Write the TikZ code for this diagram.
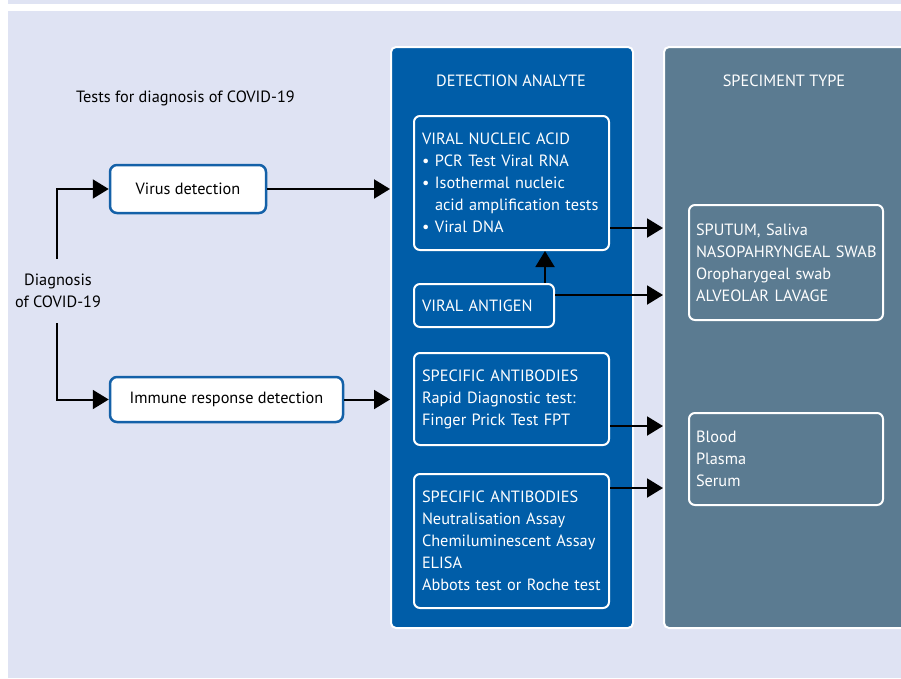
\documentclass[tikz,border=0pt]{standalone}
\usepackage{fontspec}
\setmainfont{PT Sans}
\usetikzlibrary{arrows.meta,calc}
\definecolor{bglav}{HTML}{DFE3F3}
\definecolor{anablue}{HTML}{005DA8}
\definecolor{specgrey}{HTML}{5B7B91}
\definecolor{edgeblue}{HTML}{1461A8}
\newcommand{\bul}{\makebox[13pt][l]{\textbullet}}
\newcommand{\oneline}[1]{\mbox{#1}}
\begin{document}
\begin{tikzpicture}[x=1pt,y=-1pt,
  every node/.style={font=\fontsize{16.3}{22}\selectfont},
  panel/.style={draw=white, line width=2pt, rounded corners=5pt, anchor=north west, inner sep=0pt},
  paneltitle/.style={text=white},
  inbox/.style={draw=white, line width=2pt, rounded corners=6pt, fill=anablue, text=white,
    align=left, anchor=north west, inner xsep=8pt, inner ysep=0pt},
  specbox/.style={inbox, fill=specgrey, inner xsep=7pt},
  stepbox/.style={draw=edgeblue, line width=2.5pt, fill=white, rounded corners=7pt, text=black},
  arr/.style={-{Triangle[length=16pt,width=19pt]}, line width=2pt, black}
]
\useasboundingbox (0,0) rectangle (901,678);
\clip (0,0) rectangle (901,678);
% background
\fill[white] (0,0) rectangle (901,678);
\fill[bglav] (8,0) rectangle (901,4);
\fill[bglav] (8,11) rectangle (901,678);

% panels
\node[panel, fill=anablue, minimum width=242, minimum height=581] (ana) at (390,46) {};
\node[panel, fill=specgrey, minimum width=262, minimum height=581] (spec) at (663,46) {};
\node[paneltitle] (anatitle) at (511,81) {DETECTION ANALYTE};
\node[paneltitle] (spectitle) at (784,81) {SPECIMENT TYPE};

% left side
\node[anchor=west, inner sep=0pt] (title) at (76,98) {Tests for diagnosis of COVID-19};
\node[align=center, inner sep=0pt] (diag) at (58,291) {Diagnosis\\of COVID-19};
\node[stepbox, minimum width=156, minimum height=48] (vd) at (188,189) {Virus detection};
\node[stepbox, minimum width=233, minimum height=45] (imm) at (226.5,399.5) {Immune response detection};
\coordinate (dtop) at (57,259);
\coordinate (dbot) at (57,323);

% analyte boxes
\node[inbox, text width=179, minimum height=134] (nuc) at (413,115)
  {VIRAL NUCLEIC ACID\\\bul PCR Test Viral RNA\\\bul Isothermal nucleic\\\hspace*{13pt}\oneline{acid amplification tests}\\\bul Viral DNA};
\node[inbox, text width=124, minimum height=43] (ant) at (413,283) {VIRAL ANTIGEN};
\node[inbox, text width=179, minimum height=92] (sa1) at (413,352)
  {SPECIFIC ANTIBODIES\\Rapid Diagnostic test:\\Finger Prick Test FPT};
\node[inbox, text width=179, minimum height=134] (sa2) at (413,473)
  {SPECIFIC ANTIBODIES\\Neutralisation Assay\\\oneline{Chemiluminescent Assay}\\ELISA\\\oneline{Abbots test or Roche test}};

% specimen boxes
\node[specbox, text width=180, minimum height=115] (sp1) at (688,204)
  {SPUTUM, Saliva\\\oneline{NASOPAHRYNGEAL SWAB}\\Oropharygeal swab\\ALVEOLAR LAVAGE};
\node[specbox, text width=180, minimum height=92] (sp2) at (688,412)
  {Blood\\Plasma\\Serum};

% connectors
\draw[arr] (dtop) |- (vd.west);
\draw[arr] (dbot) |- (imm.west);
\draw[arr] (vd.east) -- (vd.east -| ana.west);
\draw[arr] (imm.east) -- (imm.east -| ana.west);
\draw[arr] ([xshift=-10pt]ant.north east) -- ([xshift=-10pt]ant.north east |- nuc.south);
\draw[arr] ([yshift=23pt]nuc.south east) -- ([yshift=23pt]nuc.south east -| spec.west);
\draw[arr] ([yshift=-12pt]ant.north east) -- ([yshift=-12pt]ant.north east -| spec.west);
\draw[arr] ([yshift=20pt]sa1.south east) -- ([yshift=20pt]sa1.south east -| spec.west);
\draw[arr] ([yshift=-15pt]sa2.north east) -- ([yshift=-15pt]sa2.north east -| spec.west);
\end{tikzpicture}
\end{document}
